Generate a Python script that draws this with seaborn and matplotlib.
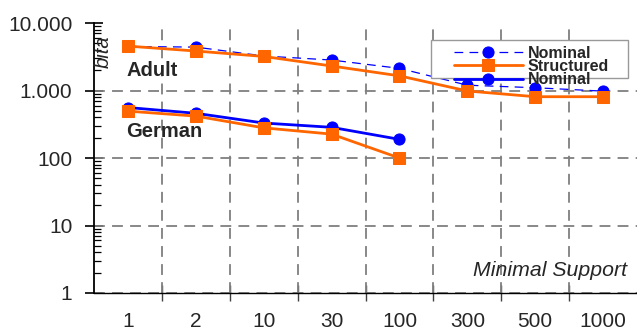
import matplotlib
matplotlib.use("Agg")
import matplotlib.pyplot as plt
import seaborn as sns
import pandas as pd
from matplotlib.patches import Rectangle
from matplotlib.ticker import FixedLocator, FixedFormatter, LogLocator, NullFormatter

# ---- data ----
categories = ["1", "2", "10", "30", "100", "300", "500", "1000"]
adult_nominal = [4500, 4400, 3250, 2830, 2130, 1200, 1100, 980]
adult_structured = [4550, 3850, 3200, 2310, 1650, 985, 810, 810]
german_categories = ["1", "2", "10", "30", "100"]
german_nominal = [560, 460, 330, 285, 189]
german_structured = [495, 418, 280, 226, 100]
ytick_values = [1, 10, 100, 1000, 10000]
ytick_labels = ["1", "10", "100", "1.000", "10.000"]
grid_values = [1, 10, 100, 1000]
legend_labels = ["Nominal", "Structured", "Nominal"]

BLUE = "#0000FF"
ORANGE = "#FF6600"

sns.set_style("white")
plt.rcParams["font.family"] = ["Liberation Sans", "DejaVu Sans"]

fig = plt.figure(figsize=(6.37, 3.34), dpi=100)
ax = fig.add_axes([0.1476, 0.1228, 0.8524, 0.8082])

df_an = pd.DataFrame({"x": categories, "y": adult_nominal})
df_as = pd.DataFrame({"x": categories, "y": adult_structured})
df_gn = pd.DataFrame({"x": german_categories, "y": german_nominal})
df_gs = pd.DataFrame({"x": german_categories, "y": german_structured})

sns.lineplot(data=df_an, x="x", y="y", ax=ax, color=BLUE, lw=0.9,
             linestyle=(0, (7, 5)), marker="o", markersize=8,
             markeredgecolor=BLUE, sort=False, zorder=3)
sns.lineplot(data=df_as, x="x", y="y", ax=ax, color=ORANGE, lw=2,
             marker="s", markersize=8, markeredgecolor=ORANGE, sort=False, zorder=4)
sns.lineplot(data=df_gn, x="x", y="y", ax=ax, color=BLUE, lw=2,
             marker="o", markersize=8, markeredgecolor=BLUE, sort=False, zorder=3)
sns.lineplot(data=df_gs, x="x", y="y", ax=ax, color=ORANGE, lw=2,
             marker="s", markersize=8, markeredgecolor=ORANGE, sort=False, zorder=4)

ax.set_yscale("log")
ax.set_ylim(1, 10000)
ax.set_xlim(-0.5, len(categories) - 0.5)
ax.set_xlabel("")
ax.set_ylabel("")

# y ticks
ax.yaxis.set_major_locator(FixedLocator(ytick_values))
ax.yaxis.set_major_formatter(FixedFormatter(ytick_labels))
ax.yaxis.set_minor_locator(LogLocator(base=10, subs=range(2, 10)))
ax.yaxis.set_minor_formatter(NullFormatter())
ax.tick_params(axis="y", which="major", direction="inout", length=13, width=1.2,
               labelsize=15, pad=9, color="black", left=True)
ax.tick_params(axis="y", which="minor", direction="in", length=5, width=0.9,
               color="black", left=True)

# x ticks: labels at category centers, tick marks at boundaries
ax.set_xticks(range(len(categories)))
ax.set_xticklabels(categories)
ax.set_xticks([i + 0.5 for i in range(len(categories) - 1)], minor=True)
ax.tick_params(axis="x", which="major", length=0, labelsize=15, pad=14)
ax.tick_params(axis="x", which="minor", direction="inout", length=12, width=1.0,
               color="#404040", bottom=True)

# grid
for gv in grid_values:
    ax.axhline(gv, color="#7f7f7f", lw=1.3, ls=(0, (6, 4)), zorder=1)
for xv in [i + 0.5 for i in range(len(categories) - 1)]:
    ax.axvline(xv, color="#7f7f7f", lw=1.3, ls=(0, (6, 4)), zorder=1)

for s in ["top", "right"]:
    ax.spines[s].set_visible(False)
ax.spines["left"].set_color("black")
ax.spines["left"].set_linewidth(1.3)
ax.spines["bottom"].set_color("black")
ax.spines["bottom"].set_linewidth(1.0)

# texts
ax.text(0.060, 0.826, "Adult", transform=ax.transAxes, fontsize=14.5,
        fontweight="bold", ha="left", va="center")
ax.text(0.060, 0.600, "German", transform=ax.transAxes, fontsize=14.5,
        fontweight="bold", ha="left", va="center")
ax.text(0.0165, 0.893, "bita", transform=ax.transAxes, fontsize=14.5,
        style="italic", rotation=90, ha="center", va="center")
ax.text(0.982, 0.085, "Minimal Support", transform=ax.transAxes, fontsize=15.3,
        style="italic", ha="right", va="center")

# legend
lines = ax.get_lines()
handles = [lines[0], lines[1], lines[2]]
ax.add_patch(Rectangle((0.621, 0.796), 0.362, 0.141, transform=ax.transAxes,
                       facecolor="white", edgecolor="#999999", lw=1.0, zorder=5))
leg = ax.legend(handles, legend_labels, loc="upper left",
                bbox_to_anchor=(0.663, 0.915), frameon=False,
                prop={"weight": "bold", "size": 11.5}, handlelength=4.3,
                handletextpad=0.3, labelspacing=-0.12, borderpad=0.0,
                borderaxespad=0.0)
leg.set_zorder(6)

fig.savefig("out.png", dpi=100)
